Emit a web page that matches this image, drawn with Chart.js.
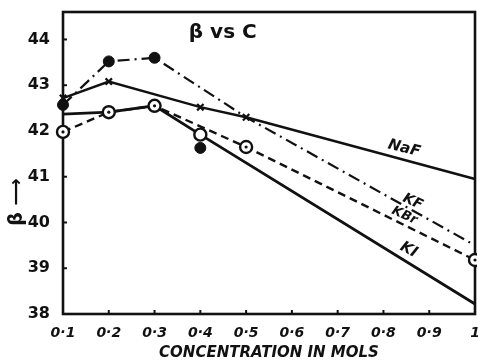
<!DOCTYPE html>
<html>
<head>
<meta charset="utf-8">
<script src="https://cdn.jsdelivr.net/npm/chart.js@4.4.0/dist/chart.umd.min.js"></script>
<style>
  html, body { margin: 0; padding: 0; background: #fff; }
  #wrap { width: 478px; height: 362px; }
</style>
</head>
<body>
<div id="wrap"><canvas id="c" width="478" height="362"></canvas></div>
<script>
// β against concentration (mol) for four alkali halides
const naF_conc = [0.1, 0.2, 0.4, 0.5, 1.0];
const naF_beta = [42.72, 43.08, 42.52, 42.30, 40.95];

const kF_conc = [0.1, 0.2, 0.3, 0.5, 1.0];
const kF_beta = [42.57, 43.52, 43.60, 42.30, 39.50];

// single KF reading that lies off its curve
const kF_extra_conc = [0.4];
const kF_extra_beta = [41.63];

const kBr_conc = [0.1, 0.2, 0.3, 0.5, 1.0];
const kBr_beta = [41.98, 42.41, 42.55, 41.65, 39.18];

const kI_conc = [0.1, 0.2, 0.3, 0.4, 1.0];
const kI_beta = [42.37, 42.41, 42.55, 41.92, 38.22];

const xTickValues = [0.1, 0.2, 0.3, 0.4, 0.5, 0.6, 0.7, 0.8, 0.9, 1.0];
const xTickLabels = ['0·1', '0·2', '0·3', '0·4', '0·5', '0·6', '0·7', '0·8', '0·9', '1'];
const yTickValues = [38, 39, 40, 41, 42, 43, 44];
const yTickLabels = ['38', '39', '40', '41', '42', '43', '44'];

const seriesNames = ['NaF', 'KF', 'KBr', 'KI'];

const pts = (xs, ys) => xs.map((x, i) => ({ x: x, y: ys[i] }));

// where the curve names sit (data coordinates) and their tilt
const curveLabelPlacement = {
  NaF: { x: 0.845, y: 41.62, rot: 14, size: 15 },
  KF:  { x: 0.864, y: 40.45, rot: 24, size: 14 },
  KBr: { x: 0.846, y: 40.15, rot: 24, size: 13 },
  KI:  { x: 0.855, y: 39.40, rot: 28, size: 15 }
};

const INK = '#111';
const FONT = '"DejaVu Sans", sans-serif';

const framePlugin = {
  id: 'frame',
  beforeDatasetsDraw(chart) {
    const { ctx, chartArea: a, scales } = chart;
    ctx.save();
    ctx.strokeStyle = INK;
    ctx.lineWidth = 2.6;
    ctx.strokeRect(a.left, a.top, a.right - a.left, a.bottom - a.top);
    // short inward tick marks
    ctx.lineWidth = 2;
    xTickValues.forEach(v => {
      const px = scales.x.getPixelForValue(v);
      ctx.beginPath(); ctx.moveTo(px, a.bottom); ctx.lineTo(px, a.bottom - 4); ctx.stroke();
    });
    yTickValues.forEach(v => {
      const py = scales.y.getPixelForValue(v);
      ctx.beginPath(); ctx.moveTo(a.left, py); ctx.lineTo(a.left + 4, py); ctx.stroke();
    });
    ctx.restore();
  },
  afterDatasetsDraw(chart) {
    const { ctx, scales } = chart;
    ctx.save();
    ctx.fillStyle = INK;
    // centre dots inside the KBr circles
    const meta = chart.getDatasetMeta(0);
    meta.data.forEach(p => {
      ctx.beginPath(); ctx.arc(p.x, p.y, 1.6, 0, Math.PI * 2); ctx.fill();
    });
    // curve names
    seriesNames.forEach(name => {
      const c = curveLabelPlacement[name];
      ctx.save();
      ctx.translate(scales.x.getPixelForValue(c.x), scales.y.getPixelForValue(c.y));
      ctx.rotate(c.rot * Math.PI / 180);
      ctx.font = 'italic bold ' + c.size + 'px ' + FONT;
      ctx.textAlign = 'center';
      ctx.textBaseline = 'middle';
      ctx.fillText(name, 0, 0);
      ctx.restore();
    });
    // heading inside the plot
    ctx.font = 'bold 20px ' + FONT;
    ctx.textAlign = 'center';
    ctx.textBaseline = 'middle';
    ctx.fillText('β vs C', scales.x.getPixelForValue(0.449), scales.y.getPixelForValue(44.15));
    // y-axis name with arrow
    ctx.save();
    ctx.translate(17, 202);
    ctx.rotate(-Math.PI / 2);
    ctx.font = 'bold 19px ' + FONT;
    ctx.fillText('β ⟶', 0, 0);
    ctx.restore();
    ctx.restore();
  }
};

const clipBox = { left: 10, top: 10, right: 2, bottom: 10 };

new Chart(document.getElementById('c'), {
  type: 'line',
  data: {
    datasets: [
      {
        label: 'KBr',
        data: pts(kBr_conc, kBr_beta),
        borderColor: INK, borderWidth: 2.4, borderDash: [8, 5],
        pointStyle: 'circle', pointRadius: 6, pointBorderWidth: 2.4,
        pointBackgroundColor: '#fff', pointBorderColor: INK,
        tension: 0, clip: clipBox
      },
      {
        label: 'KF',
        data: pts(kF_conc, kF_beta),
        borderColor: INK, borderWidth: 2.2, borderDash: [12, 5, 2, 5],
        pointStyle: 'circle', pointRadius: [5.5, 5.5, 5.5, 0, 0], pointBorderWidth: 1,
        pointBackgroundColor: INK, pointBorderColor: INK,
        tension: 0, clip: clipBox
      },
      {
        label: 'KF (off curve)',
        data: pts(kF_extra_conc, kF_extra_beta),
        showLine: false,
        pointStyle: 'circle', pointRadius: 5.5, pointBorderWidth: 1,
        pointBackgroundColor: INK, pointBorderColor: INK, clip: clipBox
      },
      {
        label: 'NaF',
        data: pts(naF_conc, naF_beta),
        borderColor: INK, borderWidth: 2.4,
        pointStyle: 'crossRot', pointRadius: [4.5, 4.5, 4.5, 4.5, 0], pointBorderWidth: 2.2,
        pointBorderColor: INK,
        tension: 0, clip: clipBox
      },
      {
        label: 'KI',
        data: pts(kI_conc, kI_beta),
        borderColor: INK, borderWidth: 2.8,
        pointStyle: 'circle', pointRadius: [0, 0, 0, 6, 0], pointBorderWidth: 2.4,
        pointBackgroundColor: '#fff', pointBorderColor: INK,
        tension: 0, clip: clipBox
      }
    ]
  },
  options: {
    responsive: false,
    animation: false,
    devicePixelRatio: 1,
    layout: { autoPadding: false, padding: { top: 12, right: 3, left: 0, bottom: 0 } },
    plugins: { legend: { display: false }, tooltip: { enabled: false }, title: { display: false } },
    scales: {
      x: {
        type: 'linear', min: 0.1, max: 1.0,
        grid: { display: false }, border: { display: false },
        afterBuildTicks: s => { s.ticks = xTickValues.map(v => ({ value: v })); },
        afterFit: s => { s.height = 48; s.paddingLeft = 0; s.paddingRight = 0; },
        ticks: {
          color: INK, padding: 3, maxRotation: 0, autoSkip: false,
          font: { family: FONT, size: 14, weight: 'bold', style: 'italic' },
          callback: (v, i) => xTickLabels[i]
        },
        title: {
          display: true, text: 'CONCENTRATION IN MOLS', color: INK,
          font: { family: FONT, size: 15, weight: 'bold', style: 'italic' },
          padding: { top: 0, bottom: 0 }
        }
      },
      y: {
        type: 'linear', min: 38, max: 44.6,
        grid: { display: false }, border: { display: false },
        afterBuildTicks: s => { s.ticks = yTickValues.map(v => ({ value: v })); },
        afterFit: s => { s.width = 63; s.paddingTop = 0; s.paddingBottom = 0; },
        ticks: {
          color: INK, padding: 5, autoSkip: false,
          font: { family: FONT, size: 16, weight: 'bold' },
          callback: (v, i) => yTickLabels[i]
        }
      }
    }
  },
  plugins: [framePlugin]
});
</script>
</body>
</html>
